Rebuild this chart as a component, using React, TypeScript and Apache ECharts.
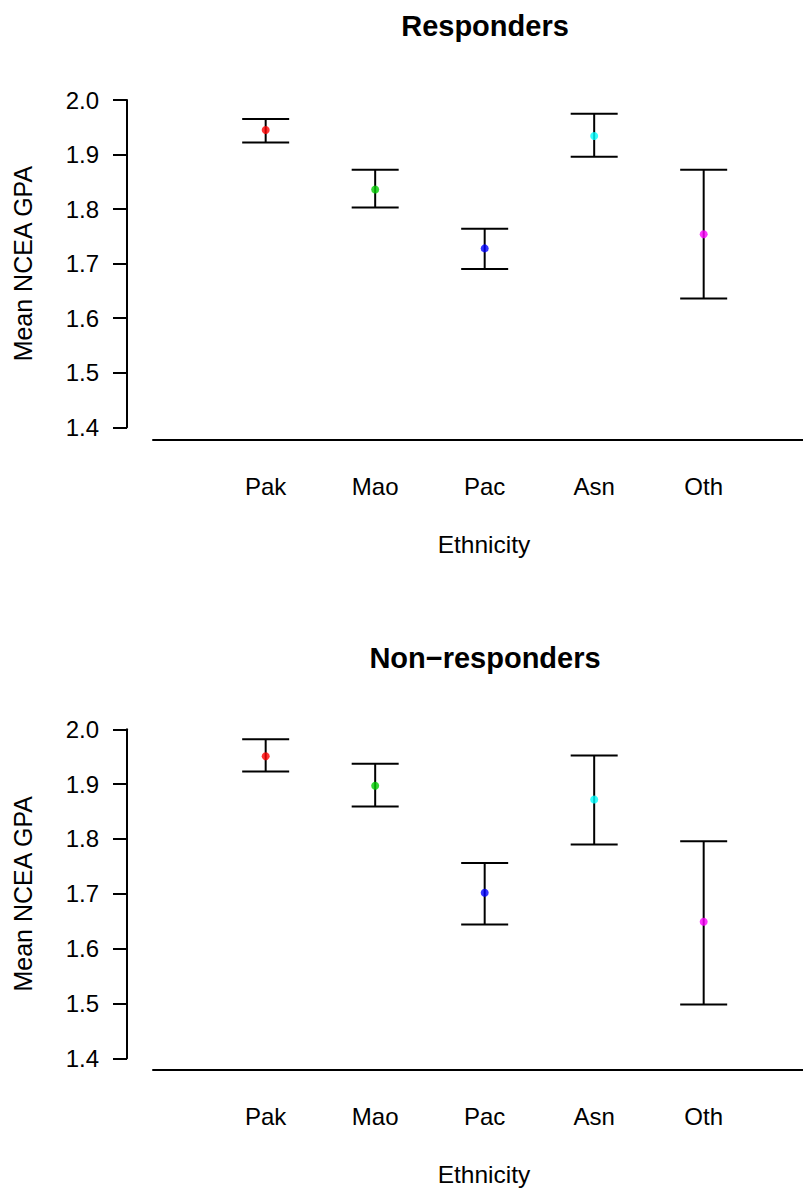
import React, { useEffect, useRef } from "react";
import * as echarts from "echarts";

const categories = ["Pak", "Mao", "Pac", "Asn", "Oth"];
const pointColors = ["#FF0000", "#00CD00", "#0000FF", "#00FFFF", "#FF00FF"];

const respMean = [1.945, 1.836, 1.728, 1.934, 1.754];
const respLower = [1.922, 1.803, 1.69, 1.896, 1.636];
const respUpper = [1.965, 1.872, 1.764, 1.975, 1.872];

const nonMean = [1.951, 1.897, 1.702, 1.872, 1.649];
const nonLower = [1.923, 1.859, 1.644, 1.79, 1.498];
const nonUpper = [1.982, 1.937, 1.756, 1.952, 1.796];

const titles = ["Responders", "Non\u2212responders"];
const yName = "Mean NCEA GPA";
const xName = "Ethnicity";
const yMin = 1.4;
const yMax = 2.0;
const yInterval = 0.1;

const FONT = "'Liberation Sans', Arial, Helvetica, sans-serif";

export default function App() {
  const ref = useRef<HTMLDivElement>(null);

  useEffect(() => {
    document.body.style.margin = "0";
    if (!ref.current) return;
    const chart = echarts.init(ref.current, null, { renderer: "svg" });

    const grids = [
      { left: 153, top: 100, width: 650, height: 327.3 },
      { left: 153, top: 729.3, width: 650, height: 329 },
    ];

    const xAxes = grids.map((_, gi) => ({
      type: "value",
      gridIndex: gi,
      min: -0.029,
      max: 5.907,
      offset: gi === 0 ? 12 : 11,
      axisLine: { show: true, onZero: false, lineStyle: { color: "#000", width: 2 } },
      axisTick: { show: false },
      splitLine: { show: false },
      axisLabel: {
        customValues: categories.map((_, i) => i + 1),
        formatter: (v: number) => categories[Math.round(v) - 1] ?? "",
        color: "#000",
        fontSize: 24,
        fontFamily: FONT,
        margin: 35,
      },
      name: xName,
      nameLocation: "middle",
      nameGap: 93,
      nameTextStyle: { color: "#000", fontSize: 24.5, fontFamily: FONT, padding: [0, 0, 0, 12] },
    }));

    const yAxes = grids.map((_, gi) => ({
      type: "value",
      gridIndex: gi,
      min: yMin,
      max: yMax,
      interval: yInterval,
      offset: 26,
      axisLine: { show: true, onZero: false, lineStyle: { color: "#000", width: 2 } },
      axisTick: { show: true, length: 14, lineStyle: { color: "#000", width: 2 } },
      splitLine: { show: false },
      axisLabel: {
        formatter: (v: number) => v.toFixed(1),
        color: "#000",
        fontSize: 24,
        fontFamily: FONT,
        margin: 28,
      },
      name: yName,
      nameLocation: "middle",
      nameRotate: 90,
      nameGap: 92,
      nameTextStyle: { color: "#000", fontSize: 25, fontFamily: FONT },
    }));

    const panels = [
      { mean: respMean, lower: respLower, upper: respUpper },
      { mean: nonMean, lower: nonLower, upper: nonUpper },
    ];

    const series: any[] = [];
    panels.forEach((p, gi) => {
      series.push({
        type: "custom",
        xAxisIndex: gi,
        yAxisIndex: gi,
        clip: false,
        encode: { x: 0, y: [1, 2] },
        data: categories.map((_, i) => [i + 1, p.lower[i], p.upper[i]]),
        renderItem: (params: any, api: any) => {
          const x = api.value(0);
          const lo = api.coord([x, api.value(1)]);
          const hi = api.coord([x, api.value(2)]);
          const hw = 23.5;
          const style = { stroke: "#000", lineWidth: 2 };
          return {
            type: "group",
            children: [
              { type: "line", shape: { x1: lo[0], y1: lo[1], x2: hi[0], y2: hi[1] }, style },
              { type: "line", shape: { x1: hi[0] - hw, y1: hi[1], x2: hi[0] + hw, y2: hi[1] }, style },
              { type: "line", shape: { x1: lo[0] - hw, y1: lo[1], x2: lo[0] + hw, y2: lo[1] }, style },
            ],
          };
        },
        z: 2,
      });
      series.push({
        type: "scatter",
        xAxisIndex: gi,
        yAxisIndex: gi,
        symbol: "circle",
        symbolSize: 8,
        data: categories.map((_, i) => ({
          value: [i + 1, p.mean[i]],
          itemStyle: { color: pointColors[i] },
        })),
        z: 3,
      });
    });

    chart.setOption({
      animation: false,
      backgroundColor: "#fff",
      title: titles.map((t, i) => ({
        text: t,
        left: 480,
        top: i === 0 ? 6 : 638,
        textAlign: "center",
        textStyle: { fontSize: 29, fontWeight: "bold", color: "#000", fontFamily: FONT },
      })),
      grid: grids,
      xAxis: xAxes,
      yAxis: yAxes,
      series,
    });

    return () => chart.dispose();
  }, []);

  return <div ref={ref} style={{ width: 803, height: 1192 }} />;
}
